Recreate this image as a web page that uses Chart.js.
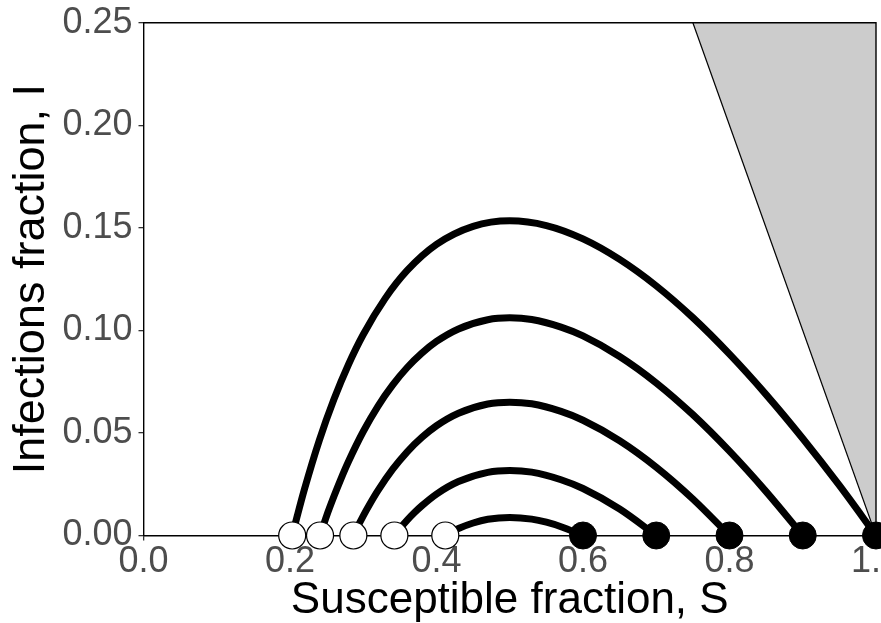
<!DOCTYPE html>
<html>
<head>
<meta charset="utf-8">
<script src="https://cdn.jsdelivr.net/npm/chart.js@4/dist/chart.umd.min.js"></script>
<style>
  html, body { margin: 0; padding: 0; background: #ffffff; }
  #c { display: block; }
</style>
</head>
<body>
<canvas id="c" width="881" height="623"></canvas>
<script>
// ---- Data ----
const xTicks = [0.0, 0.2, 0.4, 0.6, 0.8, 1.0];
const yTicks = [0.00, 0.05, 0.10, 0.15, 0.20, 0.25];

// Trajectories (S, I), one per starting susceptible fraction
const S_10 = [0.203, 0.21, 0.22, 0.24, 0.26, 0.28, 0.30, 0.33, 0.36, 0.40, 0.45, 0.50, 0.55, 0.60, 0.65, 0.70, 0.75, 0.80, 0.85, 0.90, 0.95, 1.00];
const I_10 = [0, 0.0097, 0.0229, 0.0464, 0.0664, 0.0835, 0.0980, 0.1156, 0.1292, 0.1419, 0.1507, 0.1534, 0.1511, 0.1446, 0.1346, 0.1217, 0.1062, 0.0884, 0.0687, 0.0473, 0.0244, 0];

const S_09 = [0.241, 0.25, 0.26, 0.27, 0.28, 0.30, 0.32, 0.34, 0.36, 0.38, 0.40, 0.43, 0.47, 0.50, 0.53, 0.57, 0.60, 0.65, 0.70, 0.75, 0.80, 0.85, 0.90];
const I_09 = [0, 0.0096, 0.0191, 0.0280, 0.0362, 0.0507, 0.0630, 0.0733, 0.0819, 0.0889, 0.0946, 0.1007, 0.1052, 0.1061, 0.1053, 0.1016, 0.0973, 0.0873, 0.0744, 0.0589, 0.0411, 0.0214, 0];

const S_08 = [0.2865, 0.29, 0.30, 0.31, 0.32, 0.34, 0.36, 0.38, 0.40, 0.43, 0.47, 0.50, 0.53, 0.57, 0.60, 0.65, 0.70, 0.75, 0.80];
const I_08 = [0, 0.0026, 0.0096, 0.0160, 0.0219, 0.0322, 0.0408, 0.0478, 0.0535, 0.0596, 0.0641, 0.0650, 0.0642, 0.0605, 0.0562, 0.0462, 0.0333, 0.0178, 0];

const S_07 = [0.3425, 0.35, 0.36, 0.37, 0.38, 0.40, 0.43, 0.47, 0.50, 0.53, 0.57, 0.60, 0.65, 0.70];
const I_07 = [0, 0.0034, 0.0075, 0.0112, 0.0145, 0.0202, 0.0263, 0.0308, 0.0317, 0.0309, 0.0272, 0.0229, 0.0129, 0];

const S_06 = [0.412, 0.42, 0.43, 0.45, 0.47, 0.50, 0.53, 0.55, 0.57, 0.60];
const I_06 = [0, 0.0016, 0.0034, 0.0061, 0.0079, 0.0088, 0.0080, 0.0065, 0.0043, 0];

// Start (filled) and final (open) susceptible fractions, at I = 0
const startS = [0.6, 0.7, 0.8, 0.9, 1.0];
const endS = [0.412, 0.3425, 0.2865, 0.241, 0.203];

// Boundary S + I = 1 of the infeasible (shaded) region
const boundS = [0.75, 1.0];
const boundI = [0.25, 0.0];

// ---- Build datasets ----
const zip = (xs, ys) => xs.map((x, i) => ({ x: x, y: ys[i] }));
const curves = [[S_10, I_10], [S_09, I_09], [S_08, I_08], [S_07, I_07], [S_06, I_06]];

const datasets = [];
datasets.push({
  type: 'line',
  data: zip(boundS, boundI),
  borderColor: '#000000',
  borderWidth: 1.2,
  backgroundColor: '#cccccc',
  fill: 'end',
  pointRadius: 0,
  order: 10
});
curves.forEach(c => {
  datasets.push({
    type: 'line',
    data: zip(c[0], c[1]),
    borderColor: '#000000',
    borderWidth: 7,
    fill: false,
    pointRadius: 0,
    cubicInterpolationMode: 'monotone',
    clip: false,
    order: 5
  });
});
datasets.push({
  type: 'scatter',
  data: zip(endS, endS.map(() => 0)),
  pointRadius: 13.5,
  pointBackgroundColor: '#ffffff',
  pointBorderColor: '#000000',
  pointBorderWidth: 1.2,
  clip: false,
  order: 1
});
datasets.push({
  type: 'scatter',
  data: zip(startS, startS.map(() => 0)),
  pointRadius: 13.5,
  pointBackgroundColor: '#000000',
  pointBorderColor: '#000000',
  pointBorderWidth: 1,
  clip: false,
  order: 1
});

const frame = {
  id: 'frame',
  afterDatasetsDraw(chart) {
    const a = chart.chartArea, ctx = chart.ctx;
    ctx.save();
    ctx.strokeStyle = '#000000';
    ctx.lineWidth = 1.4;
    ctx.beginPath();
    ctx.moveTo(a.left, a.top);
    ctx.lineTo(a.right, a.top);
    ctx.lineTo(a.right, a.bottom);
    ctx.stroke();
    ctx.restore();
  }
};

const FONT = "'Liberation Sans', Arial, Helvetica, sans-serif";

new Chart(document.getElementById('c'), {
  data: { datasets: datasets },
  options: {
    responsive: false,
    animation: false,
    devicePixelRatio: 1,
    layout: { autoPadding: false, padding: { top: 22.7, right: 5, left: 0, bottom: 0 } },
    plugins: { legend: { display: false }, tooltip: { enabled: false } },
    scales: {
      x: {
        type: 'linear',
        min: 0, max: 1,
        z: 1,
        afterBuildTicks: s => { s.ticks = xTicks.map(v => ({ value: v })); },
        afterFit: s => { s.height = 87.5; s.paddingLeft = 0; s.paddingRight = 0; },
        ticks: {
          autoSkip: false,
          maxRotation: 0,
          padding: 4,
          color: '#4d4d4d',
          font: { family: FONT, size: 36, lineHeight: 1 },
          callback: v => Number(v).toFixed(1)
        },
        grid: { drawOnChartArea: false, drawTicks: true, tickLength: 5, color: '#333333', lineWidth: 1.3 },
        border: { display: true, color: '#000000', width: 1.4 },
        title: {
          display: true,
          text: 'Susceptible fraction, S',
          color: '#000000',
          font: { family: FONT, size: 44, lineHeight: 1 },
          padding: { top: 0, bottom: 0.5 }
        }
      },
      y: {
        type: 'linear',
        min: 0, max: 0.25,
        afterBuildTicks: s => { s.ticks = yTicks.map(v => ({ value: v })); },
        afterFit: s => { s.width = 143.5; s.paddingTop = 0; s.paddingBottom = 0; },
        ticks: {
          autoSkip: false,
          padding: 6,
          color: '#4d4d4d',
          font: { family: FONT, size: 36, lineHeight: 1 },
          callback: v => Number(v).toFixed(2)
        },
        grid: { drawOnChartArea: false, drawTicks: true, tickLength: 5, color: '#333333', lineWidth: 1.3 },
        border: { display: true, color: '#000000', width: 1.4 },
        title: {
          display: true,
          text: 'Infections fraction, I',
          color: '#000000',
          font: { family: FONT, size: 45, lineHeight: 1 },
          padding: { top: 9, bottom: 0 }
        }
      }
    }
  },
  plugins: [frame]
});
</script>
</body>
</html>
